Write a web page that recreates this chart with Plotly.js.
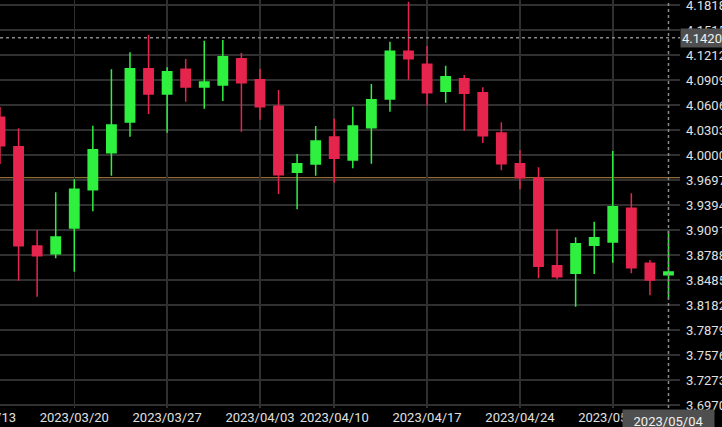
<!DOCTYPE html>
<html>
<head>
<meta charset="utf-8">
<script src="https://cdn.plot.ly/plotly-3.0.1.min.js"></script>
<style>
  html, body { margin:0; padding:0; background:#000; overflow:hidden; width:722px; height:427px; }
  #chart { position:absolute; left:-30px; top:0; width:752px; height:427px; }
</style>
</head>
<body>
<div id="chart"></div>
<script>
// ---- data ----
const dates = [
  '2023/03/14','2023/03/15','2023/03/16','2023/03/17',
  '2023/03/20','2023/03/21','2023/03/22','2023/03/23','2023/03/24',
  '2023/03/27','2023/03/28','2023/03/29','2023/03/30','2023/03/31',
  '2023/04/03','2023/04/04','2023/04/05','2023/04/06',
  '2023/04/10','2023/04/11','2023/04/12','2023/04/13','2023/04/14',
  '2023/04/17','2023/04/18','2023/04/19','2023/04/20','2023/04/21',
  '2023/04/24','2023/04/25','2023/04/26','2023/04/27','2023/04/28',
  '2023/05/01','2023/05/02','2023/05/03','2023/05/04'
];
const openV  = [4.0457,4.0101,3.8897,3.8804,3.9115,3.9579,4.0028,4.0400,4.1046,4.0739,4.1039,4.0824,4.0848,4.1167,4.0913,4.0590,3.9790,3.9891,4.0218,3.9939,4.0331,4.0679,4.1257,4.1099,4.0772,4.0925,4.0755,4.0267,3.9895,3.9721,3.8658,3.8566,3.8906,3.8946,3.9354,3.8687,3.8549];
const highV  = [4.0582,4.0324,3.9091,3.9548,3.9705,4.0355,4.1039,4.1245,4.1454,4.1064,4.1164,4.1385,4.1394,4.1236,4.1042,4.0788,4.0012,4.0351,4.0440,4.0585,4.0861,4.1373,4.1858,4.1321,4.1082,4.0970,4.0821,4.0396,4.0057,3.9851,3.9099,3.9003,3.9192,4.0048,3.9536,3.8727,3.9083];
const lowV   = [3.9891,3.8477,3.8283,3.8748,3.8586,3.9318,3.9749,4.0222,4.0497,4.0270,4.0646,4.0561,4.0654,4.0282,4.0428,3.9527,3.9342,3.9749,3.9664,3.9839,3.9895,4.0525,4.0913,4.0600,4.0634,4.0295,4.0145,3.9815,3.9584,3.8506,3.8493,3.8161,3.8558,3.8695,3.8566,3.8300,3.8255];
const closeV = [4.0113,3.8901,3.8780,3.9006,3.9584,4.0064,4.0364,4.1046,4.0739,4.1010,4.0824,4.0885,4.1191,4.0876,4.0585,3.9761,3.9895,4.0170,3.9960,4.0351,4.0670,4.1257,4.1167,4.0755,4.0949,4.0748,4.0234,3.9895,3.9725,3.8651,3.8525,3.8925,3.8998,3.9373,3.8634,3.8485,3.8582];

const xTickLabels = ['2023/03/13','2023/03/20','2023/03/27','2023/04/03','2023/04/10','2023/04/17','2023/04/24','2023/05/01'];
const yTickVals   = [3.6970,3.7273,3.7576,3.7879,3.8182,3.8485,3.8788,3.9091,3.9394,3.9697,4.0000,4.0303,4.0606,4.0909,4.1212,4.1515,4.1818];
const yTickText   = ['3.6970','3.7273','3.7576','3.7879','3.8182','3.8485','3.8788','3.9091','3.9394','3.9697','4.0000','4.0303','4.0606','4.0909','4.1212','4.1515','4.1818'];

const refLevel   = [3.9725];          // orange reference line
const crossPrice = [4.1420];          // crosshair price
const crossDate  = ['2023/05/04'];    // crosshair date

// ---- build ----
const idx = dates.map((d, i) => i);
const xTickVals = xTickLabels.map(d => { const i = dates.indexOf(d); return i >= 0 ? i : -1; });
const crossX = dates.indexOf(crossDate[0]);

const RED = '#e6254e', GREEN = '#2ff03f';

const trace = {
  type: 'candlestick',
  x: idx, open: openV, high: highV, low: lowV, close: closeV,
  increasing: { line: { color: GREEN, width: 1.5 }, fillcolor: GREEN },
  decreasing: { line: { color: RED, width: 1.5 }, fillcolor: RED },
  whiskerwidth: 0,
  hoverinfo: 'skip'
};

const layout = {
  width: 752, height: 427,
  paper_bgcolor: '#000', plot_bgcolor: '#000',
  margin: { l: 0, r: 42, t: 0, b: 19, pad: 0 },
  showlegend: false,
  boxgap: 0.28,
  font: { family: 'Roboto, sans-serif', size: 13, color: '#e0e0e0' },
  xaxis: {
    type: 'linear',
    range: [-1.6156, 36.62],
    tickmode: 'array', tickvals: xTickVals, ticktext: xTickLabels,
    showgrid: true, gridcolor: '#303030', gridwidth: 1.5,
    zeroline: false, showline: false, ticks: '',
    ticklabeloverflow: 'allow',
    rangeslider: { visible: false },
    tickfont: { family: 'Roboto, sans-serif', size: 13, color: '#e0e0e0' },
    fixedrange: true
  },
  yaxis: {
    side: 'right',
    range: [3.6934, 4.1879],
    tickmode: 'array', tickvals: yTickVals, ticktext: yTickText,
    showgrid: true, gridcolor: '#303030', gridwidth: 1.5,
    zeroline: false, showline: false, ticks: '',
    ticklabelstandoff: 5,
    ticklabeloverflow: 'allow',
    tickfont: { family: 'Roboto, sans-serif', size: 13, color: '#e0e0e0' },
    fixedrange: true
  },
  shapes: [
    { type: 'line', xref: 'paper', x0: 0, x1: 1, yref: 'y', y0: refLevel[0], y1: refLevel[0],
      line: { color: '#b98a45', width: 1 }, layer: 'below' },
    { type: 'line', xref: 'paper', x0: 0, x1: 1, yref: 'y', y0: crossPrice[0], y1: crossPrice[0],
      line: { color: '#8a8a8a', width: 1.5, dash: 'dot' } },
    { type: 'line', xref: 'x', x0: crossX, x1: crossX, yref: 'paper', y0: 0, y1: 1,
      line: { color: '#8a8a8a', width: 1.5, dash: 'dot' } }
  ],
  annotations: [
    { xref: 'paper', x: 1, xanchor: 'left', yref: 'y', y: crossPrice[0], yanchor: 'middle',
      text: crossPrice[0].toFixed(4), showarrow: false,
      bgcolor: '#4f4f4f', width: 46, height: 16, align: 'left', xshift: 0,
      font: { family: 'Roboto, sans-serif', size: 13, color: '#f0f0f0' } },
    { xref: 'x', x: crossX, xanchor: 'center', yref: 'paper', y: 0, yanchor: 'top',
      text: crossDate[0], showarrow: false,
      bgcolor: '#4f4f4f', width: 89, height: 20, yshift: -1,
      font: { family: 'Roboto, sans-serif', size: 13, color: '#f0f0f0' } }
  ]
};

Plotly.newPlot('chart', [trace], layout, { staticPlot: true, displayModeBar: false });
</script>
</body>
</html>
